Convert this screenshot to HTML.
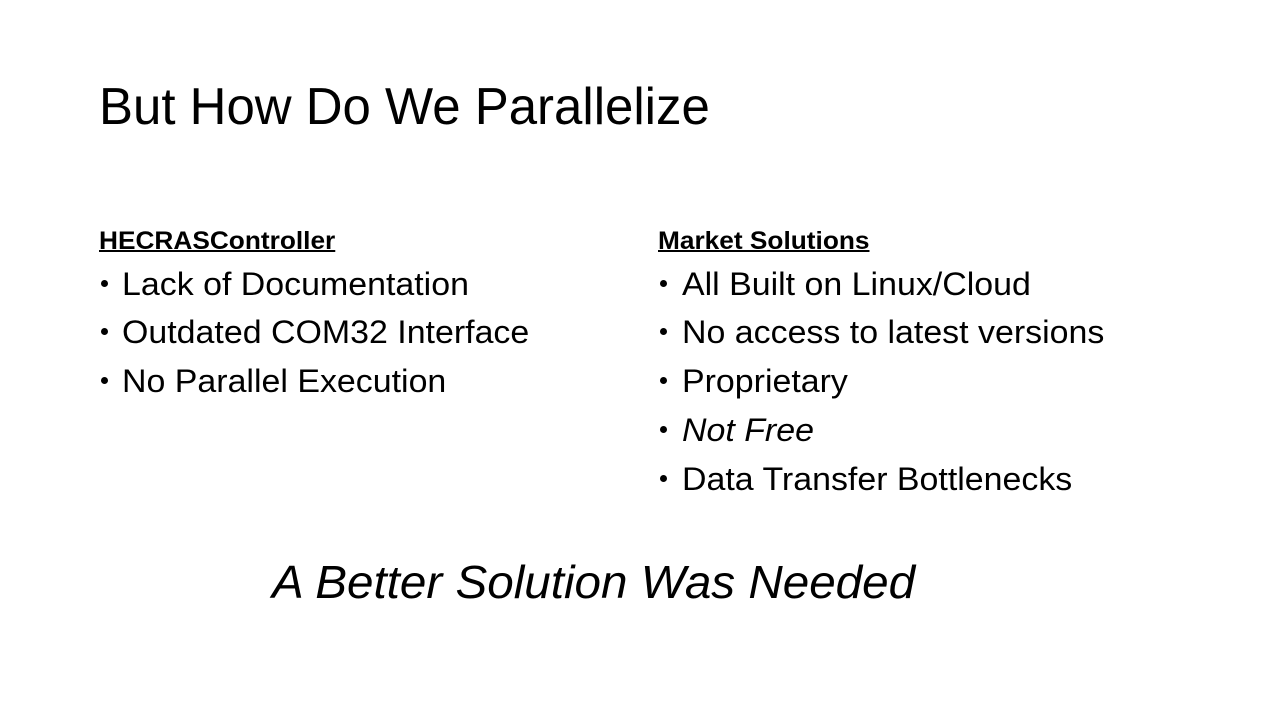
<!DOCTYPE html>
<html><head><meta charset="utf-8"><style>
body{margin:0;width:1280px;height:720px;background:#fff;position:relative;overflow:hidden;font-family:"Liberation Sans",sans-serif;color:#000}
.t{position:absolute;white-space:nowrap;line-height:1;transform-origin:0 0}
.h{font-weight:bold;text-decoration:underline;font-size:25px;text-decoration-thickness:2px;transform:scaleX(1.05)}
.b{font-size:32px;transform:scaleX(1.06)}
.dot{position:absolute;width:7px;height:7px;border-radius:50%;background:#000}
</style></head><body>
<div class="t" style="left:99px;top:81px;font-size:52px;transform:scaleX(0.98)">But How Do We Parallelize</div>
<div class="t h" style="left:99px;top:229px">HECRASController</div>
<div class="t h" style="left:658px;top:229px">Market Solutions</div>

<div class="dot" style="left:101px;top:280px"></div><div class="t b" style="left:122px;top:268px">Lack of Documentation</div>
<div class="dot" style="left:101px;top:328px"></div><div class="t b" style="left:122px;top:316px">Outdated COM32 Interface</div>
<div class="dot" style="left:101px;top:377px"></div><div class="t b" style="left:122px;top:365px">No Parallel Execution</div>

<div class="dot" style="left:660px;top:280px"></div><div class="t b" style="left:682px;top:268px">All Built on Linux/Cloud</div>
<div class="dot" style="left:660px;top:328px"></div><div class="t b" style="left:682px;top:316px">No access to latest versions</div>
<div class="dot" style="left:660px;top:377px"></div><div class="t b" style="left:682px;top:365px">Proprietary</div>
<div class="dot" style="left:660px;top:426px"></div><div class="t b" style="left:682px;top:414px;font-style:italic">Not Free</div>
<div class="dot" style="left:660px;top:475px"></div><div class="t b" style="left:682px;top:463px">Data Transfer Bottlenecks</div>

<div class="t" style="left:272px;top:559px;font-size:46px;font-style:italic;transform:scaleX(1.035)">A Better Solution Was Needed</div>
</body></html>
